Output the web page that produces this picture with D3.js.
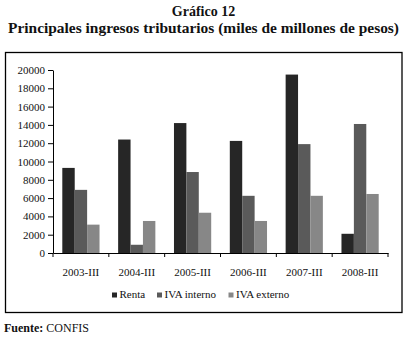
<!DOCTYPE html>
<html>
<head>
<meta charset="utf-8">
<script src="https://cdn.jsdelivr.net/npm/d3@7"></script>
<style>
  body { margin: 0; background: #fff; }
  svg { display: block; }
  svg text { font-family: "Liberation Serif", Tinos, "Times New Roman", Times, "Noto Serif", "DejaVu Serif", serif !important; }
</style>
</head>
<body>
<div id="content"></div>
<script>
const categories = ["2003-III", "2004-III", "2005-III", "2006-III", "2007-III", "2008-III"];
const series = ["Renta", "IVA interno", "IVA externo"];
const renta = [9300, 12400, 14200, 12250, 19500, 2100];
const ivaInterno = [6900, 900, 8850, 6250, 11900, 14100];
const ivaExterno = [3100, 3500, 4400, 3500, 6250, 6450];
const yTicks = [0, 2000, 4000, 6000, 8000, 10000, 12000, 14000, 16000, 18000, 20000];
const colors = ["#262626", "#5a5a5a", "#878787"];

const width = 408;
const height = 338;
const plotLeft = 53, plotRight = 388, plotTop = 70, plotBottom = 253;

const rows = categories.map((c, i) => ({
    cat: c,
    values: [renta[i], ivaInterno[i], ivaExterno[i]]
}));

const canvas = d3.select("#content")
    .append("svg")
    .attr("width", width)
    .attr("height", height);

// titles
canvas.append("text")
    .attr("x", 203.5).attr("y", 15.5)
    .attr("text-anchor", "middle")
    .attr("font-size", 14).attr("font-weight", "bold")
    .attr("fill", "#111")
    .text("Gráfico 12");
canvas.append("text")
    .attr("x", 203.5).attr("y", 32.5)
    .attr("text-anchor", "middle")
    .attr("font-size", 14).attr("font-weight", "bold")
    .attr("fill", "#111")
    .attr("textLength", 391).attr("lengthAdjust", "spacingAndGlyphs")
    .text("Principales ingresos tributarios (miles de millones de pesos)");

// frame
canvas.append("rect")
    .attr("x", 5.5).attr("y", 52.5)
    .attr("width", 396.5).attr("height", 260)
    .attr("fill", "none")
    .attr("stroke", "#000")
    .attr("stroke-width", 1.3);

const xScale = d3.scaleBand()
    .domain(categories)
    .range([plotLeft, plotRight])
    .padding(0);
const inner = d3.scaleBand()
    .domain(series)
    .range([0, xScale.bandwidth()])
    .paddingInner(0)
    .paddingOuter(0.75);
const yScale = d3.scaleLinear()
    .domain([0, 20000])
    .range([plotBottom, plotTop]);

// bars
canvas.append("g")
    .selectAll("g")
    .data(rows)
    .enter()
    .append("g")
    .attr("transform", d => `translate(${xScale(d.cat)},0)`)
    .selectAll("rect")
    .data(d => d.values.map((v, k) => ({ s: series[k], v: v, k: k })))
    .enter()
    .append("rect")
    .attr("x", d => inner(d.s))
    .attr("y", d => yScale(d.v))
    .attr("width", inner.bandwidth())
    .attr("height", d => plotBottom - yScale(d.v))
    .attr("fill", d => colors[d.k]);

// y axis
const yAxis = d3.axisLeft(yScale)
    .tickValues(yTicks)
    .tickFormat(d3.format("d"))
    .tickSize(5)
    .tickSizeOuter(0)
    .tickPadding(3);
const gy = canvas.append("g")
    .attr("transform", `translate(${plotLeft},0)`)
    .call(yAxis);
gy.selectAll("text").attr("font-size", 11).attr("fill", "#111");
gy.selectAll("line, path").attr("stroke", "#000");

// x axis
const xAxis = d3.axisBottom(xScale)
    .tickSize(0)
    .tickPadding(15);
const gx = canvas.append("g")
    .attr("transform", `translate(0,${plotBottom})`)
    .call(xAxis);
gx.select(".domain").attr("stroke", "#000");
gx.selectAll("text").attr("font-size", 11).attr("fill", "#111");
const bounds = categories.map(c => xScale(c)).concat([xScale.range()[1]]);
gx.selectAll("line.sep")
    .data(bounds)
    .enter()
    .append("line")
    .attr("class", "sep")
    .attr("x1", d => d).attr("x2", d => d)
    .attr("y1", 0).attr("y2", 4)
    .attr("stroke", "#000");

// legend
const legendX = [112, 157, 228.5];
const leg = canvas.append("g").attr("transform", "translate(0,298)");
series.forEach((s, k) => {
    leg.append("rect")
        .attr("x", legendX[k]).attr("y", -5.5)
        .attr("width", 5).attr("height", 5)
        .attr("fill", colors[k]);
    leg.append("text")
        .attr("x", legendX[k] + 7.5).attr("y", 0)
        .attr("font-size", 11).attr("fill", "#111")
        .text(s);
});

// source
const src = canvas.append("text")
    .attr("x", 4).attr("y", 331.5)
    .attr("font-size", 12).attr("fill", "#111");
src.append("tspan").attr("font-weight", "bold").text("Fuente: ");
src.append("tspan").text("CONFIS");
</script>
</body>
</html>
